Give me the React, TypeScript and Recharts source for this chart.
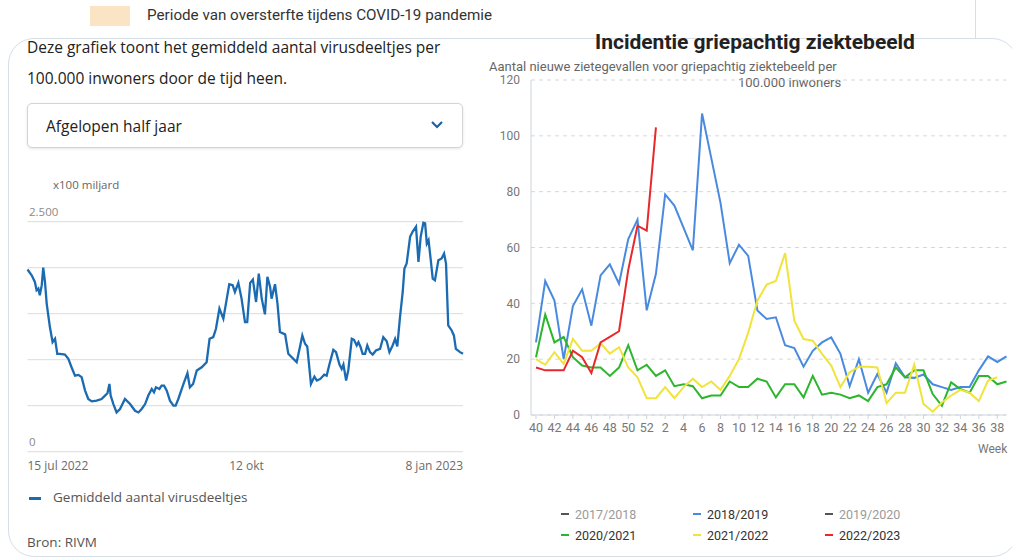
import React from 'react';
import { LineChart, Line, XAxis, YAxis, CartesianGrid } from 'recharts';

// ---------- Left chart: sewage virus particles ----------
const virusDay = [
  0, 1.7, 3, 3.7, 4.4, 5, 5.8, 6.4, 7.1, 7.8, 9.1, 10.2, 11.2, 12.1, 13.2, 15.2, 16.6, 17.9, 19.3, 20.7,
  22, 23.4, 24.7, 26.1, 28.1, 30.1, 31.5, 32.5, 33.3, 33.8, 34.9, 36.2, 37.6, 39.6, 41.7, 43.7, 45.1, 46.4, 47.8, 49.1,
  50.5, 51.4, 52.2, 53.6, 54.5, 55.5, 56.6, 57.9, 59.3, 60.2, 61.3, 63.4, 65, 66, 67.3, 68.8, 70.8, 72.8, 74, 75.5,
  76.6, 78, 79.6, 81, 82, 83.4, 84.3, 85.7, 87, 88.4, 89.3, 90.5, 91.6, 92.9, 94, 95.2, 96.5, 97.5, 98.6, 99.2,
  100.6, 101.6, 102.6, 104.7, 106, 107.4, 109.4, 110.7, 111.7, 112.8, 113.7, 115.2, 116.6, 117.6, 119, 120.6, 121.6, 122.7, 124.3, 125.4,
  126.8, 127.7, 128.4, 129.5, 130.4, 131.8, 132.7, 133.8, 134.5, 135.4, 136.2, 137.2, 138.1, 139.2, 140.3, 141.6, 143.3, 144.6, 146, 147.1,
  148.4, 149.4, 150.3, 151.4, 152.5, 153.2, 154.1, 155.5, 156.5, 157.9, 158.9, 159.8, 160.9, 161.6, 162.3, 163, 163.9, 164.7, 165.6, 167,
  168.3, 169.3, 170.1, 171, 172.4, 173.3, 174.1, 175.8, 177,
];
const virusValue = [
  1980, 1918, 1845, 1755, 1773, 1700, 1810, 2002, 1845, 1610, 1355, 1190, 1227, 1064, 1064, 1056, 1010, 918, 827, 835,
  810, 664, 573, 547, 555, 573, 610, 635, 736, 610, 518, 427, 464, 573, 518, 445, 427, 464, 518, 610,
  682, 645, 700, 682, 718, 718, 664, 555, 500, 500, 573, 736, 853, 700, 736, 882, 918, 973, 1227, 1245,
  1336, 1555, 1445, 1664, 1820, 1809, 1736, 1835, 1664, 1409, 1409, 1835, 1871, 1627, 1936, 1664, 1493, 1900, 1791, 1664,
  1820, 1609, 1300, 1275, 1064, 1027, 973, 1136, 1264, 1173, 1144, 736, 816, 773, 791, 838, 827, 947, 1107, 1082,
  947, 900, 947, 773, 889, 1227, 1216, 1155, 1191, 1136, 1064, 1064, 1155, 1082, 1056, 1100, 1118, 1245, 1200, 1082,
  1155, 1227, 1144, 1464, 1736, 1991, 2045, 2336, 2390, 2445, 2064, 2336, 2489, 2482, 2263, 2300, 2082, 1882, 1864, 2082,
  2100, 2154, 2045, 1373, 1318, 1264, 1118, 1082, 1064,
];
const virusTicks = [0, 89, 177];
const virusTickLabels = ['15 jul 2022', '12 okt', '8 jan 2023'];
const virusYTicks = [0, 500, 1000, 1500, 2000, 2500];

const virusData = virusDay.map((d, i) => ({ day: d, value: virusValue[i] }));

// ---------- Right chart: influenza-like illness ----------
const weekLabels = [
  40, 41, 42, 43, 44, 45, 46, 47, 48, 49, 50, 51, 52,
  1, 2, 3, 4, 5, 6, 7, 8, 9, 10, 11, 12, 13, 14, 15, 16, 17, 18, 19, 20,
  21, 22, 23, 24, 25, 26, 27, 28, 29, 30, 31, 32, 33, 34, 35, 36, 37, 38, 39,
];
const season1819 = [
  26, 48, 41, 20, 39, 45, 32, 50, 54, 47, 63, 70, 37.5,
  50.6, 79, 75, 67, 59, 108, 92, 76, 54.4, 61, 57, 37.4, 34.4, 35, 25, 24, 17.3, 23, 26, 27.8,
  21.9, 10.3, 20, 8, 14.7, 8, 18.5, 13.5, 13.3, 14.5, 11, 10, 9, 10, 10, 16, 21, 19, 21,
];
const season2021 = [
  20.7, 36, 26, 28, 20.7, 17.7, 17, 17, 14, 17, 25, 16, 18,
  14, 16, 10.3, 11, 10.3, 6, 7, 7, 12, 10, 10, 13, 12, 6.3, 11, 11, 6.3, 14, 7.3, 8,
  7.3, 6, 7, 5, 10, 11, 17, 13.5, 16, 16, 7.5, 3.3, 11.7, 9.3, 8, 14, 14, 11, 12,
];
const season2122 = [
  20, 18, 22.5, 18.3, 27.3, 23, 23, 25.7, 22, 24.3, 17, 13.5, 6,
  6, 10, 6, 10, 13, 10, 12, 9, 14, 20, 29.5, 41, 46.7, 48, 58, 33.8, 27.2, 26.6, 21.9, 17.7,
  10, 15.3, 17.3, 17.3, 17, 4.2, 8, 8, 18, 4, 1.2, 4.5, 7, 9, 8, 5, 12.3, 13.5, null,
];
const season2223 = [
  17, 16, 16, 16, 23, 20.7, 15, 26, 28, 30, 52, 67.8, 66,
  103,
];
const fluYTicks = [0, 20, 40, 60, 80, 100, 120];

const seasonNames = ['2017/2018', '2018/2019', '2019/2020', '2020/2021', '2021/2022', '2022/2023'];
const seasonShown = [false, true, false, true, true, true];

const fluData = weekLabels.map((w, i) => ({
  week: String(w),
  s1819: season1819[i] ?? null,
  s2021: season2021[i] ?? null,
  s2122: season2122[i] ?? null,
  s2223: season2223[i] ?? null,
}));

const COLORS: Record<string, string> = {
  '2017/2018': '#555555',
  '2018/2019': '#4a8ade',
  '2019/2020': '#555555',
  '2020/2021': '#2db62d',
  '2021/2022': '#f0e43c',
  '2022/2023': '#e8282b',
};

const LEFT_FONT = '"Open Sans", "Noto Sans", sans-serif';
const RIGHT_FONT = 'Roboto, "Noto Sans", sans-serif';

const VirusXTick = (props: any) => {
  const { x, y, payload } = props;
  const idx = virusTicks.indexOf(payload.value);
  const anchor = idx === 0 ? 'start' : idx === virusTicks.length - 1 ? 'end' : 'middle';
  return (
    <text x={x} y={y + 10} textAnchor={anchor} fontSize={12} fill="#6b6b6b" fontFamily={LEFT_FONT}>
      {virusTickLabels[idx]}
    </text>
  );
};

const VirusYTick = (props: any) => {
  const { y, payload } = props;
  if (payload.value !== 0 && payload.value !== 2500) return <g />;
  const label = payload.value === 2500 ? '2.500' : '0';
  return (
    <text x={29} y={y - 6} textAnchor="start" fontSize={11.5} fill="#8a8a8a" fontFamily={LEFT_FONT}>
      {label}
    </text>
  );
};

export default function App() {
  return (
    <div style={{ position: 'absolute', left: 0, top: 0, width: 1012, height: 560, overflow: 'hidden', background: '#ffffff' }}>
      {/* top strip */}
      <div style={{ position: 'absolute', left: 90, top: 6, width: 40, height: 20, background: '#fbe4c4' }} />
      <div style={{ position: 'absolute', left: 147, top: 5, fontFamily: RIGHT_FONT, fontSize: 15.2, color: '#333', whiteSpace: 'nowrap', lineHeight: '20px' }}>
        Periode van oversterfte tijdens COVID-19 pandemie
      </div>
      <div style={{ position: 'absolute', left: 975, top: 0, width: 1, height: 40, background: '#d9dee4' }} />

      {/* card */}
      <div style={{ position: 'absolute', left: 8, top: 38, width: 1010, height: 519, border: '1.5px solid #d6dee6', borderRadius: 26, background: '#fff', boxSizing: 'border-box' }} />

      {/* left panel texts */}
      <div style={{ position: 'absolute', left: 27, top: 32, fontFamily: LEFT_FONT, fontSize: 15.5, color: '#222', lineHeight: '31px', whiteSpace: 'nowrap' }}>
        Deze grafiek toont het gemiddeld aantal virusdeeltjes per<br />100.000 inwoners door de tijd heen.
      </div>
      <div style={{ position: 'absolute', left: 27, top: 103, width: 436, height: 45, border: '1px solid #d4d4d4', borderRadius: 5, boxSizing: 'border-box', boxShadow: '0 1px 3px rgba(0,0,0,0.10)', background: '#fff' }}>
        <div style={{ position: 'absolute', left: 18, top: 11, fontFamily: LEFT_FONT, fontSize: 15.5, color: '#222', whiteSpace: 'nowrap' }}>Afgelopen half jaar</div>
        <svg style={{ position: 'absolute', left: 402, top: 16 }} width={14} height={10}>
          <polyline points="2,2 7,7 12,2" fill="none" stroke="#1f5ea6" strokeWidth={2.2} />
        </svg>
      </div>
      <div style={{ position: 'absolute', left: 53, top: 177, fontFamily: LEFT_FONT, fontSize: 11.5, color: '#666', whiteSpace: 'nowrap' }}>x100 miljard</div>

      <div style={{ position: 'absolute', left: 0, top: 180 }}>
        <LineChart width={480} height={300} data={virusData} margin={{ top: 41.7, right: 17, left: 7.5, bottom: 3.3 }}>
          <CartesianGrid vertical={false} stroke="#e2e2e2" strokeWidth={1.2} />
          <XAxis
            dataKey="day"
            type="number"
            domain={[0, 177]}
            ticks={virusTicks}
            interval={0}
            tick={<VirusXTick />}
            tickLine={false}
            axisLine={false}
            height={25}
          />
          <YAxis
            domain={[0, 2500]}
            ticks={virusYTicks}
            interval={0}
            width={20}
            tick={<VirusYTick />}
            tickLine={false}
            axisLine={false}
          />
          <Line type="linear" dataKey="value" stroke="#1a6bb2" strokeWidth={2.3} dot={false} isAnimationActive={false} />
        </LineChart>
      </div>

      {/* left legend and source */}
      <div style={{ position: 'absolute', left: 29, top: 497, width: 12, height: 3, background: '#1a6bb2' }} />
      <div style={{ position: 'absolute', left: 53, top: 488, fontFamily: LEFT_FONT, fontSize: 13.5, color: '#555', whiteSpace: 'nowrap' }}>Gemiddeld aantal virusdeeltjes</div>
      <div style={{ position: 'absolute', left: 27, top: 533, fontFamily: LEFT_FONT, fontSize: 13.5, color: '#555', whiteSpace: 'nowrap' }}>Bron: RIVM</div>

      {/* right panel texts */}
      <div style={{ position: 'absolute', left: 480, top: 30, width: 550, textAlign: 'center', fontFamily: RIGHT_FONT, fontWeight: 700, fontSize: 21, color: '#222', whiteSpace: 'nowrap' }}>
        Incidentie griepachtig ziektebeeld
      </div>
      <div style={{ position: 'absolute', left: 489, top: 59, fontFamily: RIGHT_FONT, fontSize: 13, color: '#666', whiteSpace: 'nowrap', lineHeight: '15px' }}>
        Aantal nieuwe zietegevallen voor griepachtig ziektebeeld per
      </div>
      <div style={{ position: 'absolute', left: 738, top: 75, fontFamily: RIGHT_FONT, fontSize: 13, color: '#666', whiteSpace: 'nowrap', lineHeight: '15px' }}>
        100.000 inwoners
      </div>

      <div style={{ position: 'absolute', left: 480, top: 60 }}>
        <LineChart width={532} height={385} data={fluData} margin={{ top: 20, right: 5.5, left: 0, bottom: 0 }}>
          <CartesianGrid vertical={false} stroke="#d4d8de" strokeDasharray="4 4" />
          <XAxis
            dataKey="week"
            type="category"
            interval={1}
            padding={{ left: 5, right: 0 }}
            tick={{ fontSize: 12.5, fill: '#777', fontFamily: RIGHT_FONT }}
            tickLine={{ stroke: '#cfd4da' }}
            tickSize={4}
            tickMargin={4}
            axisLine={{ stroke: '#cfd4da' }}
            height={30}
          />
          <YAxis
            domain={[0, 120]}
            ticks={fluYTicks}
            interval={0}
            width={51}
            tick={{ fontSize: 12, fill: '#777', fontFamily: RIGHT_FONT }}
            tickLine={false}
            tickSize={6}
            tickMargin={5}
            axisLine={{ stroke: '#cfd4da' }}
          />
          <Line type="linear" dataKey="s1819" stroke={COLORS['2018/2019']} strokeWidth={2} dot={false} isAnimationActive={false} />
          <Line type="linear" dataKey="s2021" stroke={COLORS['2020/2021']} strokeWidth={2} dot={false} isAnimationActive={false} />
          <Line type="linear" dataKey="s2122" stroke={COLORS['2021/2022']} strokeWidth={2} dot={false} isAnimationActive={false} />
          <Line type="linear" dataKey="s2223" stroke={COLORS['2022/2023']} strokeWidth={2} dot={false} isAnimationActive={false} />
        </LineChart>
      </div>
      <div style={{ position: 'absolute', left: 978, top: 442, fontFamily: RIGHT_FONT, fontSize: 12, color: '#777' }}>Week</div>

      {/* right legend */}
      {seasonNames.map((name, i) => {
        const col = i % 3;
        const row = Math.floor(i / 3);
        const left = [561, 693, 825][col];
        const top = [514, 535][row];
        return (
          <div key={name} style={{ position: 'absolute', left, top: top - 9, height: 18, display: 'flex', alignItems: 'center', fontFamily: RIGHT_FONT, fontSize: 12.5, whiteSpace: 'nowrap' }}>
            <div style={{ width: 8, height: 2, background: COLORS[name], marginRight: 6 }} />
            <span style={{ color: seasonShown[i] ? '#333' : '#9a9a9a' }}>{name}</span>
          </div>
        );
      })}
    </div>
  );
}
